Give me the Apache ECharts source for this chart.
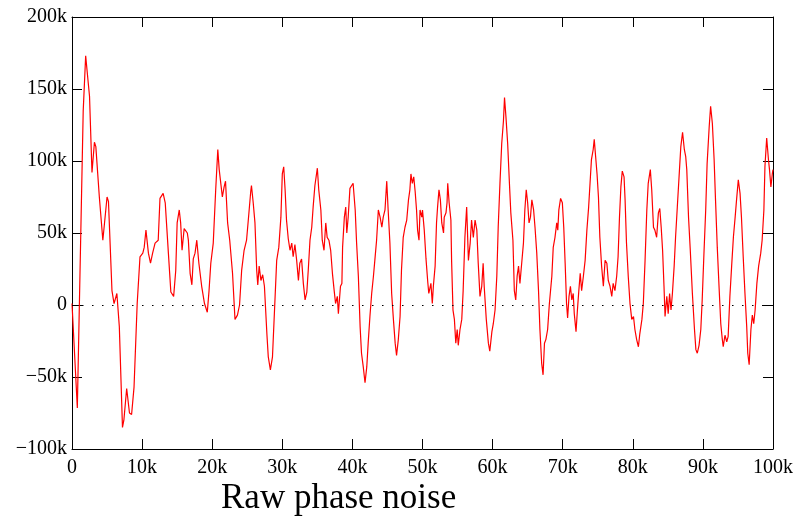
<!DOCTYPE html>
<html><head><meta charset="utf-8">
<script src="https://cdn.jsdelivr.net/npm/echarts@6/dist/echarts.min.js"></script>
<style>html,body{margin:0;padding:0;background:#fff}#c{width:798px;height:516px}</style>
</head><body><div id="c"></div>
<script>
const titleText = "Raw phase noise";
const xTicks = [0,10,20,30,40,50,60,70,80,90,100];
const yTicks = [-100,-50,0,50,100,150,200];
// sample position (thousands)
const xs = [0,0.76,1.6,1.95,2.5,2.85,3.2,3.4,3.9,4.4,4.6,5.0,5.2,5.7,6.0,6.4,6.75,7.2,7.4,7.8,8.2,8.5,8.85,9.3,9.7,10.1,10.3,10.55,10.9,11.2,11.5,11.85,12.3,12.55,13.0,13.3,13.75,14.1,14.35,14.5,14.8,15.0,15.3,15.5,15.7,16.0,16.25,16.45,16.6,16.85,17.1,17.3,17.55,17.8,17.9,18.1,18.5,18.9,19.3,19.55,19.8,20.15,20.5,20.8,21.0,21.45,21.7,21.9,22.2,22.5,22.9,23.25,23.6,23.9,24.2,24.55,24.9,25.15,25.5,25.6,25.85,26.1,26.35,26.5,26.7,26.95,27.2,27.45,27.8,28.0,28.3,28.6,28.85,29.2,29.5,29.8,30.0,30.2,30.4,30.6,30.85,31.1,31.35,31.55,31.8,32.05,32.3,32.5,32.75,33.0,33.25,33.5,33.7,33.95,34.2,34.4,34.65,35.0,35.2,35.5,35.7,35.95,36.2,36.4,36.65,36.9,37.15,37.4,37.6,37.85,38.0,38.3,38.5,38.6,38.85,39.05,39.2,39.4,39.65,39.9,40.1,40.4,40.6,40.85,41.1,41.3,41.55,41.8,42.05,42.25,42.5,42.75,43.0,43.2,43.45,43.7,43.95,44.2,44.4,44.65,44.9,45.1,45.35,45.6,45.85,46.1,46.3,46.55,46.8,47.0,47.25,47.5,47.75,48.0,48.2,48.35,48.55,48.75,48.95,49.15,49.3,49.5,49.65,49.9,50.0,50.25,50.5,50.75,50.9,51.2,51.4,51.55,51.8,52.0,52.15,52.35,52.55,52.75,53.0,53.1,53.35,53.5,53.6,53.8,54.05,54.15,54.35,54.55,54.75,54.95,55.1,55.35,55.6,55.8,56.05,56.3,56.55,56.8,57.0,57.25,57.5,57.75,57.95,58.2,58.45,58.65,58.8,59.1,59.4,59.6,59.9,60.1,60.35,60.6,60.8,61.05,61.3,61.55,61.7,61.9,62.15,62.4,62.6,62.9,63.1,63.3,63.5,63.7,63.9,64.15,64.4,64.6,64.8,65.0,65.2,65.4,65.6,65.85,66.05,66.3,66.55,66.75,67.0,67.2,67.4,67.6,67.85,68.1,68.45,68.65,68.9,69.15,69.3,69.45,69.7,69.95,70.15,70.35,70.55,70.7,70.9,71.1,71.3,71.5,71.65,71.9,72.1,72.3,72.5,72.7,72.95,73.2,73.45,73.7,73.9,74.1,74.35,74.5,74.7,74.9,75.1,75.3,75.55,75.8,76.05,76.3,76.5,76.75,77.0,77.2,77.45,77.7,77.9,78.1,78.3,78.5,78.75,78.9,79.1,79.35,79.6,79.85,80.1,80.3,80.55,80.8,81.0,81.3,81.5,81.75,82.0,82.2,82.5,82.7,82.95,83.15,83.4,83.65,83.85,84.05,84.25,84.45,84.6,84.85,85.05,85.25,85.45,85.65,85.9,86.1,86.35,86.6,86.85,87.1,87.35,87.55,87.7,87.95,88.2,88.5,88.8,89.0,89.2,89.45,89.7,89.9,90.15,90.4,90.6,90.9,91.1,91.35,91.6,91.8,92.05,92.3,92.55,92.75,92.9,93.15,93.4,93.6,93.85,94.1,94.35,94.6,94.8,95.05,95.3,95.5,95.75,96.0,96.25,96.4,96.6,96.85,97.05,97.25,97.45,97.7,97.95,98.25,98.45,98.7,98.85,99.1,99.35,99.5,99.7,99.9,100];
// phase noise (thousands)
const ys = [1,-71.5,135,173,145,92,113,110,75,45,46,75,72,10,1,8,-15,-85,-80,-58,-75,-76,-57,1,33.5,36,40,52,36,29,36,43,45,74,77.5,71,36,9,8,6,24,57,66,57,38,53,54,50,45,22,14,32,36,45,45,29,13,1,-5,10,29,43,80,108,94,75,82,86,57,45,22,-10,-7,0,24,38,45,59,79,83,71,57,24,14,27,17,21,13,-20,-36,-45,-36,-8,31,40,61,91,96,80,59,46,38,43,33.5,42,31,17,29,32,15,3.5,9,24,45,54,68,83,95,80,66,45,38,57,47,45,38,22,10,1,6,-6,13,15,40,61,68,50,61,81,83,84.5,66,43,20,-15,-33.5,-43,-54,-43,-26.5,-8,8,20,31,45,66,61,54,61,66,86,66,43,8,-10,-26.5,-35,-24,-8,24,47,54,59,73,80,91,84.5,89,79,66,52,45,66,61,66,52,32,16,8,15,1,13,27,57,68,80,73,57,50,61,64,71,84.5,71,59,31,-3.5,-10,-26.5,-17,-28,-17,-10,10,47,68,31,43,59,47,59,52,29,6,13,29,13,-10,-26.5,-32,-18.5,-13,-3.5,20,54,84.5,112,128,144,131,112,84.5,64,45,10,3.5,20,27,15,29,43,66,80,71,57,61,73,66,54,36,10,-17,-40.5,-48.5,-26.5,-24,-17,1,20,40,47,57,52,66,74,71,54,29,1,-9,6,13,3.5,8,-6,-18.5,-3.5,10,22,10,20,31,52,68,84.5,101,108,115,103,91,75,47,27,13,31,29,17,13,6,15,10,20,33.5,61,82,93,89,73,43,20,1,-10,-8,-17,-24,-29,-20,-10,1,31,66,84.5,94,80,54,52,47,64,67,54,38,13,-8,6,-6,8,-3.5,8,27,47,68,89,110,120,108,103,94,61,38,8,-17,-31,-33.5,-28,-17,3.5,36,66,98,124,138,126,101,73,40,13,-13,-23,-29,-21,-25.5,-22,6,27,47,61,73,87,77.5,61,33.5,8,-15,-33.5,-41.5,-17,-7,-13,-3.5,15,27,36,45,66,96,116,101,94,82,91,94];

const pts = xs.map((x, i) => [x, ys[i]]);
const fmt = v => v === 0 ? '0' : (v < 0 ? '\u2212' + Math.abs(v) + 'k' : v + 'k');
const font = 'Liberation Serif';
const tick = {show: true, inside: true, length: 10, lineStyle: {color: '#000', width: 1}};
const line = {show: true, onZero: false, lineStyle: {color: '#000', width: 1}};

const chart = echarts.init(document.getElementById('c'), null, {renderer: 'canvas'});
chart.setOption({
  animation: false,
  backgroundColor: '#fff',
  title: {text: titleText, left: 216, top: 476,
    textStyle: {fontFamily: font, fontSize: 35, fontWeight: 'normal', color: '#000'}},
  grid: {left: 72, right: 25, top: 17, bottom: 67, containLabel: false},
  xAxis: [
    {type: 'value', position: 'bottom', min: xTicks[0], max: xTicks[xTicks.length-1], interval: 10,
     axisLine: line, axisTick: tick, splitLine: {show: false},
     axisLabel: {formatter: fmt, fontFamily: font, fontSize: 20, color: '#000', margin: 9}},
    {type: 'value', position: 'top', min: 0, max: 100, interval: 10,
     axisLine: line, axisTick: tick, splitLine: {show: false}, axisLabel: {show: false}}
  ],
  yAxis: [
    {type: 'value', position: 'left', min: yTicks[0], max: yTicks[yTicks.length-1], interval: 50,
     axisLine: line, axisTick: tick, splitLine: {show: false},
     axisLabel: {formatter: fmt, fontFamily: font, fontSize: 20, color: '#000', margin: 5}},
    {type: 'value', position: 'right', min: -100, max: 200, interval: 50,
     axisLine: line, axisTick: tick, splitLine: {show: false}, axisLabel: {show: false}}
  ],
  series: [{
    type: 'line', data: pts, xAxisIndex: 0, yAxisIndex: 0,
    showSymbol: false, symbol: 'none',
    lineStyle: {color: '#ff0000', width: 1.2},
    markLine: {silent: true, symbol: 'none', label: {show: false},
      lineStyle: {color: '#000', type: [1.5, 8.5], width: 1.2},
      data: [{yAxis: 0}]}
  }]
});
</script></body></html>
